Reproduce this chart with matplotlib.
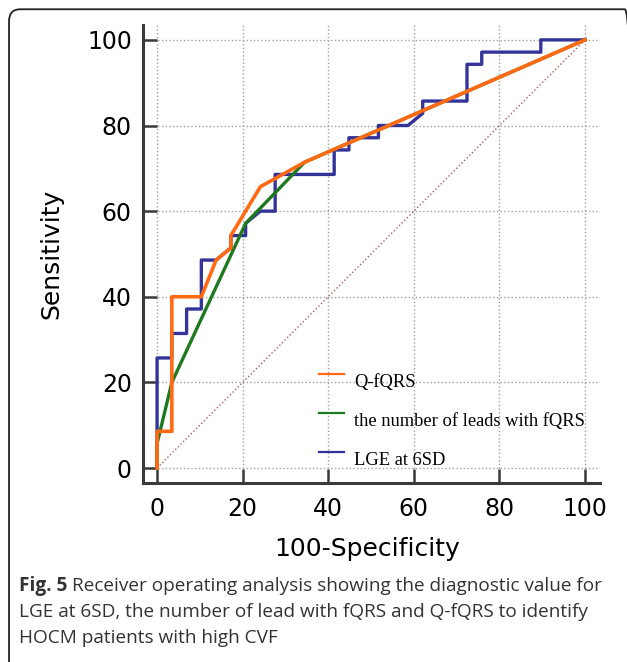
import numpy as np
import matplotlib as mpl
mpl.use('Agg')
import matplotlib.pyplot as plt
from matplotlib.patches import FancyBboxPatch
from matplotlib.legend_handler import HandlerLine2D

# ROC points (100-specificity, sensitivity)
qf_x = [0, 0, 3.45, 3.45, 10.34, 13.79, 17.24, 17.24, 24.14, 34.48, 100]
qf_y = [0, 8.57, 8.57, 40.0, 40.0, 48.57, 51.43, 54.29, 65.71, 71.43, 100]

nl_x = [0, 0, 3.45, 20.69, 34.48, 100]
nl_y = [0, 5.71, 20.0, 57.14, 71.43, 100]

lge_x = [0, 0, 3.45, 3.45, 6.90, 6.90, 10.34, 10.34, 13.79, 17.24, 17.24, 20.69,
         20.69, 24.14, 27.59, 27.59, 41.38, 41.38, 44.83, 44.83, 51.72, 51.72,
         58.62, 62.07, 62.07, 72.41, 72.41, 75.86, 75.86, 89.66, 89.66, 100]
lge_y = [0, 25.71, 25.71, 31.43, 31.43, 37.14, 37.14, 48.57, 48.57, 51.43, 54.29, 54.29,
         57.14, 60.0, 60.0, 68.57, 68.57, 74.29, 74.29, 77.14, 77.14, 80.0,
         80.0, 82.86, 85.71, 85.71, 94.29, 94.29, 97.14, 97.14, 100, 100]

labels = ['Q-fQRS', 'the number of leads with fQRS', 'LGE at 6SD']
colors = ['#ff6a13', '#1f7a1f', '#33339a']
ticks = [0, 20, 40, 60, 80, 100]

plt.rcParams['font.family'] = ['DejaVu Sans']
dark = '#3a3a3a'


class RaisedLine(HandlerLine2D):
    # legend line sits a little above the middle of its label
    def create_artists(self, legend, orig_handle, xdescent, ydescent,
                       width, height, fontsize, trans):
        arts = super().create_artists(legend, orig_handle, xdescent, ydescent,
                                      width, height, fontsize, trans)
        for a in arts:
            a.set_ydata(np.asarray(a.get_ydata()) + 5)
        return arts


fig = plt.figure(figsize=(6.27, 6.62), dpi=100)
ax = fig.add_axes([0.228, 0.2704, 0.729, 0.692])

ax.plot([0, 100], [0, 100], ':', color='#b05a5a', lw=1.0, zorder=1)
l3, = ax.plot(lge_x, lge_y, '-', color=colors[2], lw=2.4, zorder=3)
l2, = ax.plot(nl_x, nl_y, '-', color=colors[1], lw=2.4, zorder=4)
l1, = ax.plot(qf_x, qf_y, '-', color=colors[0], lw=2.6, zorder=5)

ax.set_xlim(-3.3, 103.5)
ax.set_ylim(-3.5, 103.5)
ax.set_xticks(ticks)
ax.set_yticks(ticks)
ax.grid(True, ls=':', color='#a0a0a0', lw=1.0, zorder=0)
for s in ['top', 'right']:
    ax.spines[s].set_visible(False)
for s in ['left', 'bottom']:
    ax.spines[s].set_linewidth(2.2)
    ax.spines[s].set_color(dark)
ax.tick_params(direction='in', length=10, width=1.8, color=dark,
               labelsize=17, labelcolor='black')
ax.tick_params(axis='x', pad=10)
ax.tick_params(axis='y', pad=8)

ax.set_xlabel('100-Specificity', fontsize=18)
ax.set_ylabel('Sensitivity', fontsize=18)
ax.xaxis.set_label_coords(0.49, -0.118)
ax.yaxis.set_label_coords(-0.175, 0.5)

leg = ax.legend([l1, l2, l3], labels, loc='upper left',
                bbox_to_anchor=(0.385, 0.238), frameon=False,
                prop={'family': 'Liberation Serif', 'size': 13.3},
                handlelength=1.35, handletextpad=0.55, labelspacing=1.2,
                borderpad=0, borderaxespad=0,
                handler_map={mpl.lines.Line2D: RaisedLine()})
for h in leg.get_lines():
    h.set_linewidth(1.6)

# outer rounded frame
frame = FancyBboxPatch((0.0144, -0.02), 1.0, 1.006,
                       boxstyle='round,pad=0,rounding_size=0.018',
                       transform=fig.transFigure, fill=False,
                       ec='#222222', lw=1.3, clip_on=False)
fig.patches.append(frame)

# caption
cap_font = ['Open Sans', 'DejaVu Sans']
cap_size = 13.7
cap_col = '#333333'
rend = fig.canvas.get_renderer()
t = fig.text(19 / 627, 1 - 586 / 662, 'Fig. 5', fontsize=cap_size, family=cap_font,
             fontweight='bold', color=cap_col, va='center')
bb = t.get_window_extent(renderer=rend)
fig.text(bb.x1 / fig.bbox.width + 0.008, 1 - 586 / 662,
         'Receiver operating analysis showing the diagnostic value for',
         fontsize=cap_size, family=cap_font, color=cap_col, va='center')
fig.text(19 / 627, 1 - 612 / 662,
         'LGE at 6SD, the number of lead with fQRS and Q-fQRS to identify',
         fontsize=cap_size, family=cap_font, color=cap_col, va='center')
fig.text(19 / 627, 1 - 638 / 662, 'HOCM patients with high CVF',
         fontsize=cap_size, family=cap_font, color=cap_col, va='center')

fig.savefig('out.png', dpi=100)
